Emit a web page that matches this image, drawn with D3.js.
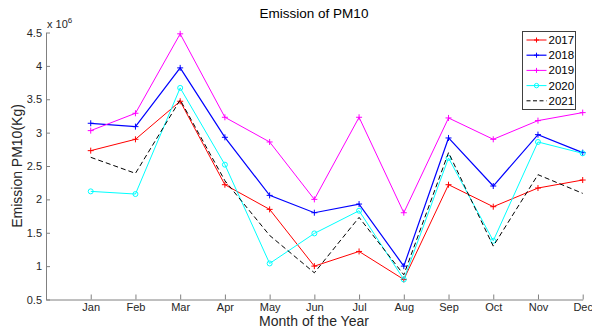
<!DOCTYPE html>
<html>
<head>
<meta charset="utf-8">
<script src="https://cdn.jsdelivr.net/npm/d3@7"></script>
<style>
  body { margin: 0; background: #fff; }
  svg { display: block; font-family: "Liberation Sans", Arial, sans-serif; }
</style>
</head>
<body>
<div id="canvas"></div>
<script>
var MONTHS = ['Jan', 'Feb', 'Mar', 'Apr', 'May', 'Jun', 'Jul', 'Aug', 'Sep', 'Oct', 'Nov', 'Dec'];
var Y_TICKS = [0.5, 1, 1.5, 2, 2.5, 3, 3.5, 4, 4.5];

// values in 10^6 Kg
var PM10_2017 = [2.73, 2.90, 3.47, 2.22, 1.85, 1.00, 1.22, 0.80, 2.22, 1.89, 2.17, 2.29];
var PM10_2018 = [3.14, 3.09, 3.97, 2.93, 2.06, 1.80, 1.93, 1.00, 2.92, 2.20, 2.97, 2.70];
var PM10_2019 = [3.03, 3.29, 4.48, 3.23, 2.86, 2.00, 3.23, 1.80, 3.22, 2.90, 3.18, 3.30];
var PM10_2020 = [2.12, 2.08, 3.67, 2.52, 1.04, 1.49, 1.83, 0.80, 2.62, 1.38, 2.86, 2.69];
var PM10_2021 = [2.63, 2.39, 3.49, 2.28, 1.46, 0.90, 1.73, 0.87, 2.70, 1.30, 2.37, 2.09];

var SERIES = [
    { name: '2017', values: PM10_2017, color: '#ff0000', marker: 'plus', width: 1 },
    { name: '2018', values: PM10_2018, color: '#0000ff', marker: 'plus', width: 1.2 },
    { name: '2019', values: PM10_2019, color: '#ff00ff', marker: 'plus', width: 1 },
    { name: '2020', values: PM10_2020, color: '#00ffff', marker: 'circle', width: 1 },
    { name: '2021', values: PM10_2021, color: '#000000', marker: 'none', width: 1, dash: '5,3' }
];

var W = 592, H = 329;
var LEFT = 46, RIGHT = 582.7, TOP = 32.5, BOTTOM = 299.5;
var AXIS_COLOR = '#808080';

var svg = d3.select('#canvas').append('svg')
    .attr('width', W)
    .attr('height', H);

var x = d3.scaleLinear().domain([0, 12]).range([LEFT, RIGHT]);
var y = d3.scaleLinear().domain([0.5, 4.5]).range([BOTTOM, TOP]);

// axes, ticks pointing inward like matlab
var xAxis = d3.axisBottom(x)
    .tickValues(d3.range(1, 13))
    .tickFormat(function(d) { return MONTHS[d - 1]; })
    .tickSizeInner(-5)
    .tickSizeOuter(0)
    .tickPadding(4);
var gx = svg.append('g').attr('transform', 'translate(0,' + BOTTOM + ')').call(xAxis);

var yAxis = d3.axisLeft(y)
    .tickValues(Y_TICKS)
    .tickFormat(function(d) { return d; })
    .tickSizeInner(-4)
    .tickSizeOuter(0)
    .tickPadding(4);
var gy = svg.append('g').attr('transform', 'translate(' + LEFT + ',0)').call(yAxis);

[gx, gy].forEach(function(g) {
    g.select('.domain').attr('stroke', AXIS_COLOR).attr('stroke-width', 1);
    g.selectAll('.tick line').attr('stroke', AXIS_COLOR);
    g.selectAll('.tick text').attr('fill', '#262626').style('font-size', '11px');
});

// x 10^6 exponent label
var expo = svg.append('text')
    .attr('x', LEFT + 1)
    .attr('y', 28)
    .attr('fill', '#262626')
    .style('font-size', '11px')
    .text('x 10');
expo.append('tspan')
    .attr('dy', -5)
    .style('font-size', '8px')
    .text('6');

// lines
var line = d3.line()
    .x(function(d, i) { return x(i + 1); })
    .y(function(d) { return y(d); });

SERIES.forEach(function(s) {
    svg.append('path')
        .datum(s.values)
        .attr('d', line)
        .attr('fill', 'none')
        .attr('stroke', s.color)
        .attr('stroke-width', s.width)
        .attr('stroke-dasharray', s.dash || null);

    s.values.forEach(function(v, i) {
        var cx = x(i + 1), cy = y(v);
        if (s.marker == 'plus') {
            svg.append('path')
                .attr('d', 'M' + (cx - 3) + ',' + cy + 'H' + (cx + 3) + 'M' + cx + ',' + (cy - 3) + 'V' + (cy + 3))
                .attr('stroke', s.color)
                .attr('stroke-width', 1);
        } else if (s.marker == 'circle') {
            svg.append('circle')
                .attr('cx', cx)
                .attr('cy', cy)
                .attr('r', 2.5)
                .attr('fill', 'none')
                .attr('stroke', s.color)
                .attr('stroke-width', 1);
        }
    });
});

// title and axis labels
svg.append('text')
    .attr('x', 314)
    .attr('y', 18)
    .attr('text-anchor', 'middle')
    .attr('fill', '#000')
    .style('font-size', '13.5px')
    .text('Emission of PM10');

svg.append('text')
    .attr('x', 314)
    .attr('y', 326)
    .attr('text-anchor', 'middle')
    .attr('fill', '#262626')
    .style('font-size', '14px')
    .text('Month of the Year');

svg.append('text')
    .attr('transform', 'translate(22,166) rotate(-90)')
    .attr('text-anchor', 'middle')
    .attr('fill', '#262626')
    .style('font-size', '14px')
    .text('Emission PM10(Kg)');

// legend
var LEG_X = 522.5, LEG_Y = 31.5, LEG_W = 53, LEG_H = 78, LEG_ROW = 15.2;
var leg = svg.append('g');
leg.append('rect')
    .attr('x', LEG_X)
    .attr('y', LEG_Y)
    .attr('width', LEG_W)
    .attr('height', LEG_H)
    .attr('fill', '#fff')
    .attr('stroke', '#404040')
    .attr('stroke-width', 1);

SERIES.forEach(function(s, k) {
    var ly = LEG_Y + 8.5 + k * LEG_ROW;
    leg.append('line')
        .attr('x1', LEG_X + 4)
        .attr('x2', LEG_X + 24)
        .attr('y1', ly)
        .attr('y2', ly)
        .attr('stroke', s.color)
        .attr('stroke-width', s.width)
        .attr('stroke-dasharray', s.dash ? '4,2.5' : null);
    var mx = LEG_X + 14;
    if (s.marker == 'plus') {
        leg.append('path')
            .attr('d', 'M' + (mx - 2.5) + ',' + ly + 'H' + (mx + 2.5) + 'M' + mx + ',' + (ly - 2.5) + 'V' + (ly + 2.5))
            .attr('stroke', s.color);
    } else if (s.marker == 'circle') {
        leg.append('circle')
            .attr('cx', mx)
            .attr('cy', ly)
            .attr('r', 2.2)
            .attr('fill', 'none')
            .attr('stroke', s.color);
    }
    leg.append('text')
        .attr('x', LEG_X + 26)
        .attr('y', ly + 4)
        .attr('fill', '#000')
        .style('font-size', '11.5px')
        .text(s.name);
});
</script>
</body>
</html>
